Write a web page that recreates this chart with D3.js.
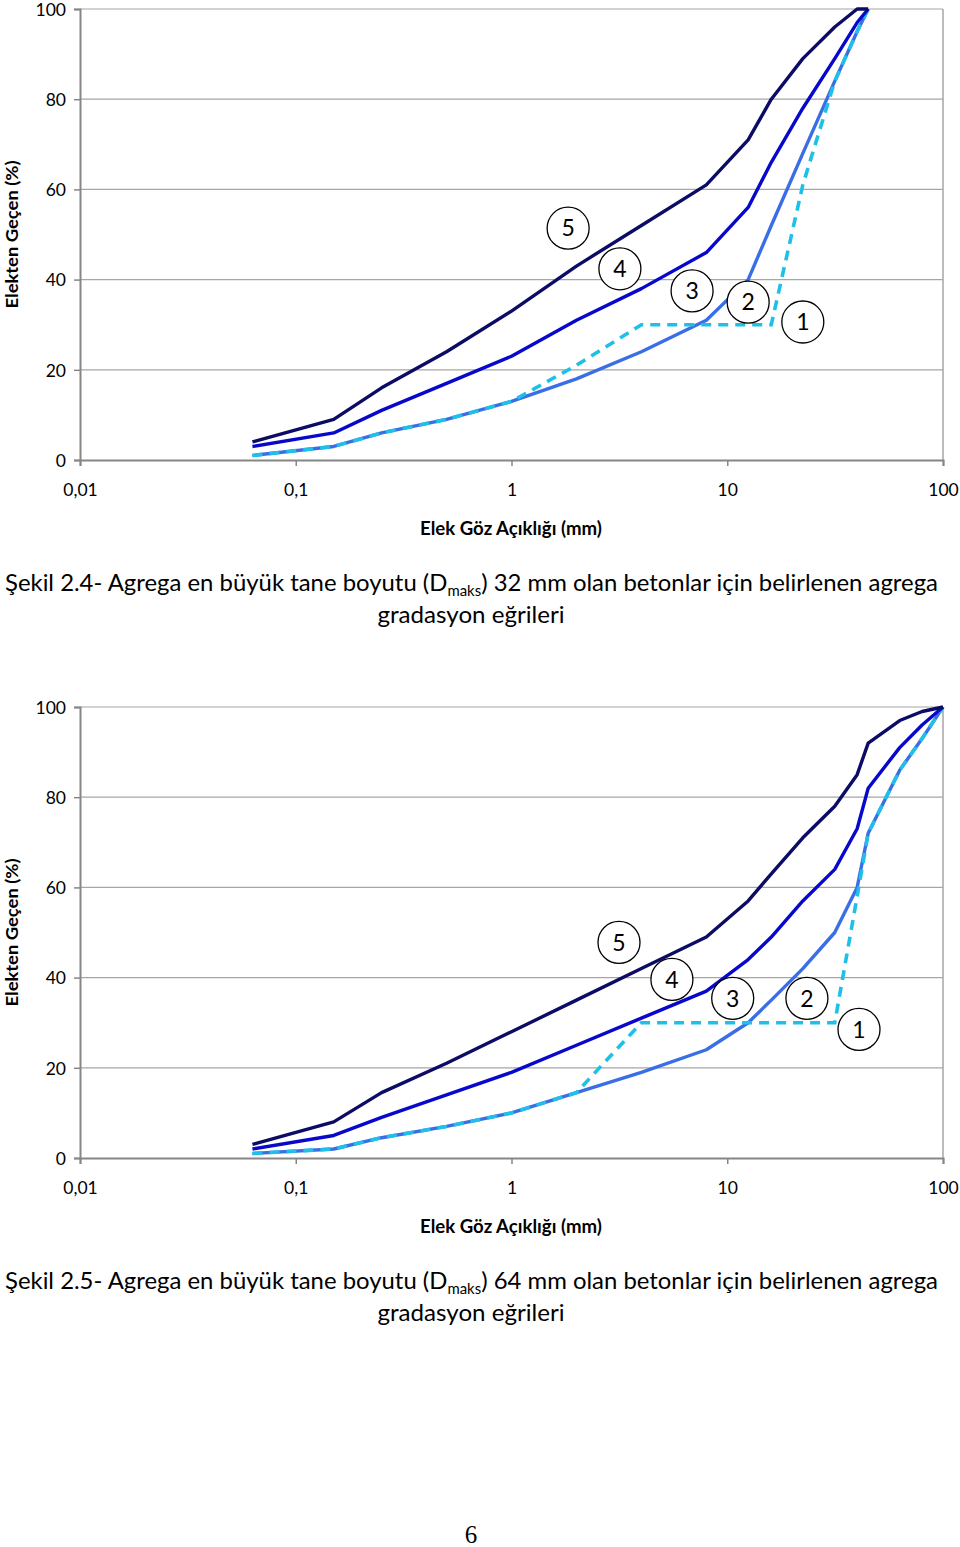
<!DOCTYPE html>
<html><head><meta charset="utf-8">
<script src="https://cdn.jsdelivr.net/npm/d3@7"></script>
<style>body{margin:0;background:#fff}svg{display:block}</style>
</head><body>
<svg id="c" width="960" height="1547"></svg>
<script>
// ---- data ----
const sieves1 = [0.063, 0.15, 0.25, 0.5, 1, 2, 4, 8, 12.5, 16, 22.4, 31.5, 40, 45];
const top5 = [4, 9, 16, 24, 33, 43, 52, 61, 71, 80, 89, 96, 100, 100];
const top4 = [3, 6, 11, 17, 23, 31, 38, 46, 56, 66, 78, 89, 97, 100];
const top3 = [1, 3, 6, 9, 13, 18, 24, 31, 40, 52, 68, 84, 95, 100];
const top1 = [1, 3, 6, 9, 13, 21, 30, 30, 30, 30, 61, 84, 95, 100];

const sieves2 = [0.063, 0.15, 0.25, 0.5, 1, 2, 4, 8, 12.5, 16, 22.4, 31.5, 40, 45, 63, 80, 100];
const bot5 = [3, 8, 14.5, 21, 28, 35, 42, 49, 57, 63, 71, 78, 85, 92, 97, 99, 100];
const bot4 = [2, 5, 9, 14, 19, 25, 31, 37, 44, 49, 57, 64, 73, 82, 91, 96, 100];
const bot3 = [1, 2, 4.5, 7, 10, 14.5, 19, 24, 30, 35, 42, 50, 60, 72, 86, 93, 100];
const bot1 = [1, 2, 4.5, 7, 10, 14.5, 30, 30, 30, 30, 30, 30, 58, 72, 86, 93, 100];

const xTicks = [0.01, 0.1, 1, 10, 100];
const xTickLabels = ["0,01", "0,1", "1", "10", "100"];
const yTicks = [0, 20, 40, 60, 80, 100];
const curveLabels = ["5", "4", "3", "2", "1"];
const labelPosTop = [[1.83, 51.4], [3.18, 42.4], [6.87, 37.5], [12.5, 35], [22.4, 30.6]];
const labelPosBot = [[3.15, 47.8], [5.54, 39.6], [10.6, 35.4], [23.4, 35.4], [40.8, 28.5]];

const yTitle = "Elekten Geçen (%)";
const xTitle = "Elek Göz Açıklığı (mm)";
const captions = [
  {pre: "Şekil 2.4- Agrega en büyük tane boyutu (D", sub: "maks", post: ") 32 mm olan betonlar için belirlenen agrega", line2: "gradasyon eğrileri"},
  {pre: "Şekil 2.5- Agrega en büyük tane boyutu (D", sub: "maks", post: ") 64 mm olan betonlar için belirlenen agrega", line2: "gradasyon eğrileri"}
];

// ---- styles ----
const COL5 = "#0c0c66", COL4 = "#0808cc", COL3 = "#3a6ee6", COL1 = "#1fc0e8";
const FONT = "Lato, 'Open Sans', sans-serif";

const svg = d3.select("#c");

function panel(top, sieves, s5, s4, s3, s1, labelPos, cap) {
  const x = d3.scaleLog().domain([0.01, 100]).range([80, 943]);
  const y = d3.scaleLinear().domain([0, 100]).range([top + 451, top]);
  const g = svg.append("g");

  // gridlines
  g.append("g").selectAll("line").data(yTicks.filter(d => d > 0)).join("line")
    .attr("x1", 80).attr("x2", 943).attr("y1", d => y(d)).attr("y2", d => y(d))
    .attr("stroke", "#a6a6a6").attr("stroke-width", 1.2);
  // right border
  g.append("line").attr("x1", 943).attr("x2", 943).attr("y1", y(100)).attr("y2", y(0))
    .attr("stroke", "#a6a6a6").attr("stroke-width", 1.5);

  // axes
  const yAxis = d3.axisLeft(y).tickValues(yTicks).tickSize(6).tickPadding(8).tickFormat(d3.format("d"));
  const ya = g.append("g").attr("transform", "translate(80,0)").call(yAxis);
  const xAxis = d3.axisBottom(x).tickValues(xTicks).tickSize(6).tickPadding(18)
    .tickFormat((d, i) => xTickLabels[i]);
  const xa = g.append("g").attr("transform", `translate(0,${y(0)})`).call(xAxis);
  [ya, xa].forEach(a => {
    a.select(".domain").attr("stroke", "#868686").attr("stroke-width", 2);
    a.selectAll(".tick line").attr("stroke", "#868686").attr("stroke-width", 1.5);
    a.selectAll(".tick text").attr("fill", "#000").style("font-family", FONT).style("font-size", "17.5px");
  });
  ya.selectAll(".tick text").attr("dy", "0.36em");

  // lines
  const mk = vals => d3.line().x((d, i) => x(sieves[i])).y(d => y(d))(vals);
  g.append("path").attr("d", mk(s3)).attr("fill", "none").attr("stroke", COL3).attr("stroke-width", 3.4).attr("stroke-linejoin", "round");
  g.append("path").attr("d", mk(s1)).attr("fill", "none").attr("stroke", COL1).attr("stroke-width", 3.6).attr("stroke-dasharray", "10,7");
  g.append("path").attr("d", mk(s4)).attr("fill", "none").attr("stroke", COL4).attr("stroke-width", 3.4).attr("stroke-linejoin", "round");
  g.append("path").attr("d", mk(s5)).attr("fill", "none").attr("stroke", COL5).attr("stroke-width", 3.4).attr("stroke-linejoin", "round");

  // circle labels
  const lg = g.append("g").selectAll("g").data(curveLabels).join("g")
    .attr("transform", (d, i) => `translate(${x(labelPos[i][0])},${y(labelPos[i][1])})`);
  lg.append("circle").attr("r", 21).attr("fill", "#fff").attr("stroke", "#000").attr("stroke-width", 1.3);
  lg.append("text").text(d => d).attr("text-anchor", "middle").attr("dy", "0.36em")
    .style("font-family", FONT).style("font-size", "23px");

  // y title
  svg.append("text").text(yTitle)
    .attr("transform", `translate(18,${(y(0) + y(100)) / 2}) rotate(-90)`)
    .attr("text-anchor", "middle").style("font-family", FONT).style("font-weight", "bold").style("font-size", "17.5px")
    .attr("textLength", 148).attr("lengthAdjust", "spacingAndGlyphs");
  // x title
  svg.append("text").text(xTitle).attr("x", 511).attr("y", y(0) + 75)
    .attr("text-anchor", "middle").style("font-family", FONT).style("font-weight", "bold").style("font-size", "18px")
    .attr("textLength", 182).attr("lengthAdjust", "spacingAndGlyphs");

  // caption
  const c1 = svg.append("text").attr("x", 5).attr("y", y(0) + 131).style("font-family", FONT).style("font-size", "24px");
  c1.append("tspan").text(cap.pre);
  c1.append("tspan").text(cap.sub).attr("dy", 5).style("font-size", "15px");
  c1.append("tspan").text(cap.post).attr("dy", -5);
  c1.attr("textLength", 933).attr("lengthAdjust", "spacingAndGlyphs");
  svg.append("text").text(cap.line2).attr("x", 471).attr("y", y(0) + 163).attr("text-anchor", "middle")
    .style("font-family", FONT).style("font-size", "24px")
    .attr("textLength", 187).attr("lengthAdjust", "spacingAndGlyphs");
}

panel(9, sieves1, top5, top4, top3, top1, labelPosTop, captions[0]);
panel(707, sieves2, bot5, bot4, bot3, bot1, labelPosBot, captions[1]);

svg.append("text").text("6").attr("x", 471).attr("y", 1543).attr("text-anchor", "middle")
  .attr("font-family", "Liberation Serif, DejaVu Serif, serif").attr("font-size", 25);
</script>
</body></html>
